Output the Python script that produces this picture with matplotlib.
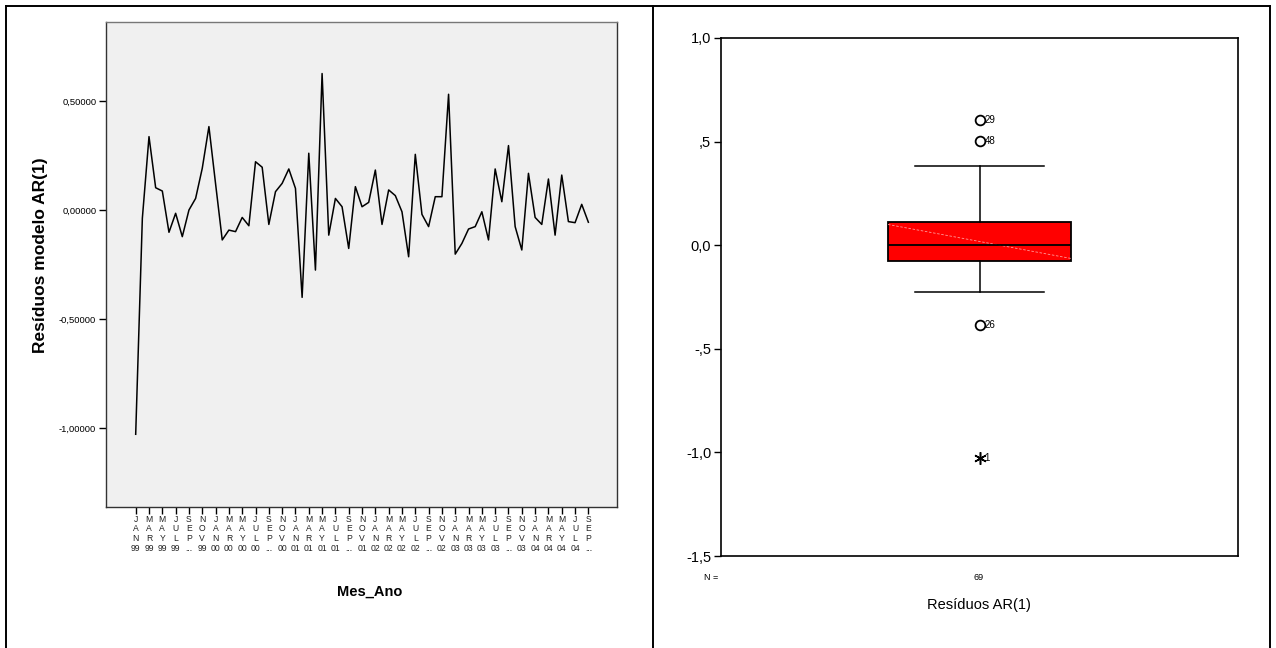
import matplotlib
matplotlib.use("Agg")
import matplotlib.pyplot as plt
from matplotlib.lines import Line2D

plt.rcParams['font.family'] = ['Liberation Sans', 'DejaVu Sans']

# ---------------- data ----------------
residuals = [
    -1.027, -0.038, 0.336, 0.102, 0.087, -0.102, -0.015, -0.122, 0.000, 0.053,
    0.191, 0.382, 0.120, -0.137, -0.092, -0.099, -0.034, -0.072, 0.221, 0.196,
    -0.066, 0.084, 0.122, 0.188, 0.099, -0.400, 0.260, -0.275, 0.625, -0.115,
    0.053, 0.015, -0.176, 0.107, 0.015, 0.035, 0.183, -0.066, 0.092, 0.066,
    -0.008, -0.214, 0.255, -0.020, -0.076, 0.061, 0.061, 0.530, -0.202, -0.153,
    -0.087, -0.076, -0.008, -0.137, 0.188, 0.038, 0.295, -0.076, -0.183, 0.168,
    -0.034, -0.066, 0.142, -0.115, 0.160, -0.053, -0.058, 0.026, -0.056,
]
tick_labels = [
    "JAN 99", "MAR 99", "MAY 99", "JUL 99", "SEP ...", "NOV 99",
    "JAN 00", "MAR 00", "MAY 00", "JUL 00", "SEP ...", "NOV 00",
    "JAN 01", "MAR 01", "MAY 01", "JUL 01", "SEP ...", "NOV 01",
    "JAN 02", "MAR 02", "MAY 02", "JUL 02", "SEP ...", "NOV 02",
    "JAN 03", "MAR 03", "MAY 03", "JUL 03", "SEP ...", "NOV 03",
    "JAN 04", "MAR 04", "MAY 04", "JUL 04", "SEP ...",
]
left_yticks = [0.5, 0.0, -0.5, -1.0]
left_yticklabels = ["0,50000", "0,00000", "-0,50000", "-1,00000"]

box_q1 = -0.074
box_med = 0.0
box_q3 = 0.110
box_whislo = -0.226
box_whishi = 0.380
outlier_cases = [29, 48, 26]
outlier_vals = [0.605, 0.503, -0.385]
extreme_cases = [1]
extreme_vals = [-1.029]
n_cases = 69
right_yticks = [1.0, 0.5, 0.0, -0.5, -1.0, -1.5]
right_yticklabels = ["1,0", ",5", "0,0", "-,5", "-1,0", "-1,5"]

# ---------------- figure ----------------
W, H = 1276, 648
fig = plt.figure(figsize=(W / 100, H / 100), dpi=100)
fig.patch.set_facecolor('white')

def fx(px):
    return px / W

def fy(py):
    return 1 - py / H

# outer border and divider
for seg in [((6, 6), (6, 648)), ((6, 1270), (6, 6)), ((1270, 1270), (6, 648)),
            ((652.5, 652.5), (6, 648))]:
    xs, ys = seg
    fig.add_artist(Line2D([fx(x) for x in xs], [fy(y) for y in ys],
                          color='black', lw=1.4, transform=fig.transFigure))

# ---------------- left: time series ----------------
axL = fig.add_axes([fx(106), fy(507), fx(617 - 106), (507 - 22) / H])
axL.set_facecolor('#f0f0f0')
x = list(range(len(residuals)))
axL.plot(x, residuals, color='black', lw=1.1)
axL.set_xlim(-4.46, 72.3)
axL.set_ylim(-1.36, 0.861)
axL.set_yticks(left_yticks)
axL.set_yticklabels(left_yticklabels, fontsize=6.8)
axL.set_xticks(list(range(0, len(residuals), 2)))
axL.set_xticklabels(['\n'.join(list(lbl.split()[0]) + [lbl.split()[1]])
                     for lbl in tick_labels],
                    fontsize=6.2, linespacing=1.12, color='#222222')
axL.tick_params(axis='both', direction='out', length=5, width=1, pad=2)
axL.tick_params(axis='x', pad=0.5)
for sp in axL.spines.values():
    sp.set_color('#333333')
    sp.set_linewidth(1.0)
axL.spines['top'].set_color('#777777')
fig.text(fx(41), fy(255), "Resíduos modelo AR(1)", rotation=90,
         ha='center', va='center', fontsize=12.5, fontweight='bold')
fig.text(fx(370), fy(592), "Mes_Ano", ha='center', va='center',
         fontsize=10.5, fontweight='bold')

# ---------------- right: box plot ----------------
axR = fig.add_axes([fx(721), fy(556), fx(517), 518 / H])
axR.set_facecolor('white')
stats = [dict(med=box_med, q1=box_q1, q3=box_q3, whislo=box_whislo,
              whishi=box_whishi, fliers=[])]
bw = 0.354
axR.bxp(stats, positions=[0.5], widths=bw, capwidths=[0.248],
        patch_artist=True, showfliers=False,
        boxprops=dict(facecolor='#ff0000', edgecolor='black', linewidth=1.3),
        medianprops=dict(color='black', linewidth=1.3),
        whiskerprops=dict(color='black', linewidth=1.1),
        capprops=dict(color='black', linewidth=1.1))
axR.plot([0.5 - bw / 2, 0.5 + bw / 2], [box_q3 - 0.01, box_q1 + 0.01],
         color='#ff9a9a', lw=0.6, dashes=(3, 2))
axR.plot([0.5] * len(outlier_vals), outlier_vals, linestyle='none',
         marker='o', markersize=7, markerfacecolor='none',
         markeredgecolor='black', markeredgewidth=1.3)
axR.plot([0.5] * len(extreme_vals), extreme_vals, linestyle='none',
         marker=(6, 2, 0), markersize=9, color='black', markeredgewidth=1.1)
for c, v in zip(outlier_cases + extreme_cases, outlier_vals + extreme_vals):
    axR.text(0.5095, v, str(c), fontsize=7, ha='left', va='center')
axR.set_xlim(0, 1)
axR.set_ylim(-1.5, 1.0)
axR.set_xticks([])
axR.set_yticks(right_yticks)
axR.set_yticklabels(right_yticklabels, fontsize=10.5)
axR.tick_params(axis='y', direction='out', length=5, width=1, pad=2)
for sp in axR.spines.values():
    sp.set_color('black')
    sp.set_linewidth(1.2)
fig.text(fx(711), fy(577), "N =", ha='center', va='center', fontsize=6.5)
fig.text(fx(979), fy(577), str(n_cases), ha='center', va='center', fontsize=6.5)
fig.text(fx(979), fy(605), "Resíduos AR(1)", ha='center', va='center',
         fontsize=10.5)

fig.savefig("out.png", dpi=100)
